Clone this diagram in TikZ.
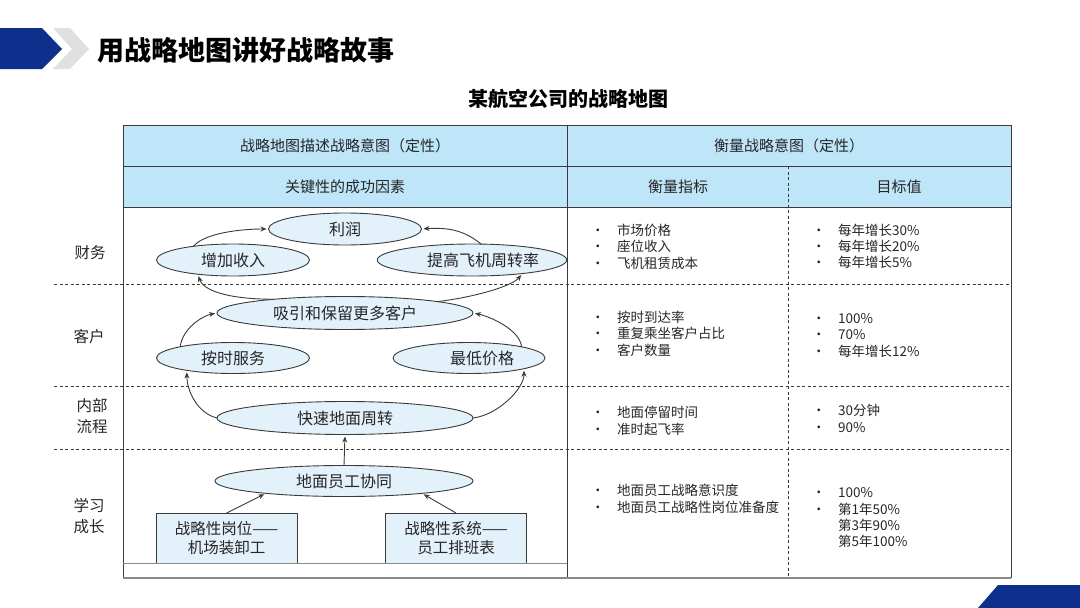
\documentclass[tikz,border=0pt]{standalone}
\usepackage{fontspec}
\setmainfont{Noto Sans CJK SC}
\usetikzlibrary{shapes.geometric,arrows.meta}
\definecolor{navy}{HTML}{0F2F8C}
\definecolor{hdr}{HTML}{BEE5F8}
\definecolor{ell}{HTML}{E3F1FB}
\definecolor{ln}{HTML}{3A3A3A}
\definecolor{txt}{HTML}{262626}
\definecolor{greyl}{HTML}{8A8A8A}
\newcommand\bulx{\makebox[26pt][l]{•}}
\newcommand\nobulx{\makebox[26pt][l]{}}
\begin{document}
\begin{tikzpicture}[x=1pt,y=-1pt,
  ov/.style={ellipse,draw=ln,line width=0.9pt,fill=ell,inner sep=0pt,outer sep=0pt,
    font=\fontsize{16}{18}\selectfont,text=txt},
  bx/.style={rectangle,draw=ln,line width=0.9pt,fill=ell,inner sep=0pt,outer sep=0pt,
    minimum width=141pt,minimum height=50pt,align=center,
    font=\fontsize{15.5}{19}\selectfont,text=txt},
  arr/.style={-{Stealth[length=6pt,width=5pt]},draw=ln,line width=0.9pt,shorten >=2pt},
  hd/.style={font=\fontsize{15}{18}\selectfont,text=txt},
  lab/.style={font=\fontsize{15.5}{21}\selectfont,text=txt,align=center},
  it/.style={anchor=west,font=\fontsize{13.5}{15}\selectfont,text=txt,inner sep=0pt},
  dsh/.style={draw=ln,line width=0.7pt,dash pattern=on 3pt off 2.5pt}]
\useasboundingbox (0,0) rectangle (1080,608);
% decorations
\fill[navy] (0,28) -- (42,28) -- (62,49) -- (42,69) -- (0,69) -- cycle;
\fill[black!12] (53,28) -- (70,28) -- (89,49) -- (70,69) -- (53,69) -- (72,49) -- cycle;
\fill[navy] (978,608) -- (998,585) -- (1080,585) -- (1080,608) -- cycle;
\node[anchor=west,font=\fontsize{27}{30}\selectfont\bfseries,inner sep=0pt] (title) at (97,50) {用战略地图讲好战略故事};
\node[font=\fontsize{20}{24}\selectfont\bfseries] (sub) at (568,99) {某航空公司的战略地图};
% table
\fill[hdr] (123,125) rectangle (1011,207);
\draw[dsh] (54,284) -- (1011,284);
\draw[dsh] (54,386) -- (1011,386);
\draw[dsh] (54,449) -- (1011,449);
\draw[dsh] (788,166) -- (788,578);
\draw[ln,line width=0.8pt] (123,166) -- (1011,166);
\draw[ln,line width=0.8pt] (123,207) -- (1011,207);
\draw[ln,line width=0.8pt] (567,125) -- (567,578);
\draw[ln,line width=0.9pt] (123,578) -- (123,125) -- (1011,125) -- (1011,578);
\draw[greyl,line width=1.4pt] (123,578) -- (1011,578);
% header texts
\node[hd] (h1) at (345,146) {战略地图描述战略意图（定性）};
\node[hd] (h2) at (789,146) {衡量战略意图（定性）};
\node[hd] (h3) at (345,187) {关键性的成功因素};
\node[hd] (h4) at (678,187) {衡量指标};
\node[hd] (h5) at (899,187) {目标值};
% left labels
\node[lab] (l1) at (90,253) {财务};
\node[lab] (l2) at (89,337) {客户};
\node[lab] (l3) at (92,416) {内部\\流程};
\node[lab] (l4) at (89,516) {学习\\成长};
% ellipses
\node[ov,minimum width=153pt,minimum height=32pt] (P) at (345,229) {利润};
\node[ov,minimum width=153pt,minimum height=32pt] (I) at (233,260) {增加收入};
\node[ov,minimum width=182pt,minimum height=32pt] (T) at (472,260) {\hspace*{22pt}提高飞机周转率};
\node[ov,minimum width=256pt,minimum height=33pt] (A) at (345,313) {吸引和保留更多客户};
\node[ov,minimum width=153pt,minimum height=31pt] (O) at (233,358) {按时服务};
\node[ov,minimum width=152pt,minimum height=31pt] (L) at (469,358) {\hspace*{26pt}最低价格};
\node[ov,minimum width=256pt,minimum height=33pt] (Q) at (345,418) {快速地面周转};
\node[ov,minimum width=258pt,minimum height=31pt] (G) at (344,481) {地面员工协同};
\node[bx] (B1) at (226.5,538) {战略性岗位——\\机场装卸工};
\node[bx] (B2) at (456,538) {战略性系统——\\员工排班表};
\draw[greyl,line width=1pt] (123,563) -- (567,563);
% arrows
\draw[arr] (I.161) .. controls +(12,-14) and +(-25,0) .. (P.west);
\draw[arr] (T.60) .. controls +(-15,-12) and +(30,-2) .. (P.east);
\draw[arr] (A.169) .. controls +(-50,0) and +(5,15) .. (I.202);
\draw[arr] (A.7) .. controls +(40,-5) and +(-10,12) .. (T.345);
\draw[arr] (O.168) .. controls +(2,-18) and +(-15,3) .. (A.west);
\draw[arr] (L.12) .. controls +(-2,-18) and +(15,3) .. (A.east);
\draw[arr] (Q.west) .. controls +(-20,-5) and +(0,20) .. (O.195);
\draw[arr] (Q.east) .. controls +(25,-3) and +(0,20) .. (L.349);
\draw[arr] (G.north) -- (Q.south);
\draw[arr] (B1.north) -- (G.189);
\draw[arr] (B2.north) -- (G.351);
% metrics
\node[it] (m1) at (591,230) {\bulx 市场价格};
\node[it] (m2) at (591,246) {\bulx 座位收入};
\node[it] (m3) at (591,263) {\bulx 飞机租赁成本};
\node[it] (m4) at (591,317) {\bulx 按时到达率};
\node[it] (m5) at (591,333) {\bulx 重复乘坐客户占比};
\node[it] (m6) at (591,350) {\bulx 客户数量};
\node[it] (m7) at (591,412) {\bulx 地面停留时间};
\node[it] (m8) at (591,429) {\bulx 准时起飞率};
\node[it] (m9) at (591,490) {\bulx 地面员工战略意识度};
\node[it] (m10) at (591,507) {\bulx 地面员工战略性岗位准备度};
% values
\node[it] (v1) at (812,230) {\bulx 每年增长30\%};
\node[it] (v2) at (812,246) {\bulx 每年增长20\%};
\node[it] (v3) at (812,262) {\bulx 每年增长5\%};
\node[it] (v4) at (812,319) {\bulx 100\%};
\node[it] (v5) at (812,335) {\bulx 70\%};
\node[it] (v6) at (812,351) {\bulx 每年增长12\%};
\node[it] (v7) at (812,410) {\bulx 30分钟};
\node[it] (v8) at (812,428) {\bulx 90\%};
\node[it] (v9) at (812,493) {\bulx 100\%};
\node[it] (v10) at (812,509) {\bulx 第1年50\%};
\node[it] (v11) at (812,525) {\nobulx 第3年90\%};
\node[it] (v12) at (812,541) {\nobulx 第5年100\%};
\end{tikzpicture}
\end{document}
